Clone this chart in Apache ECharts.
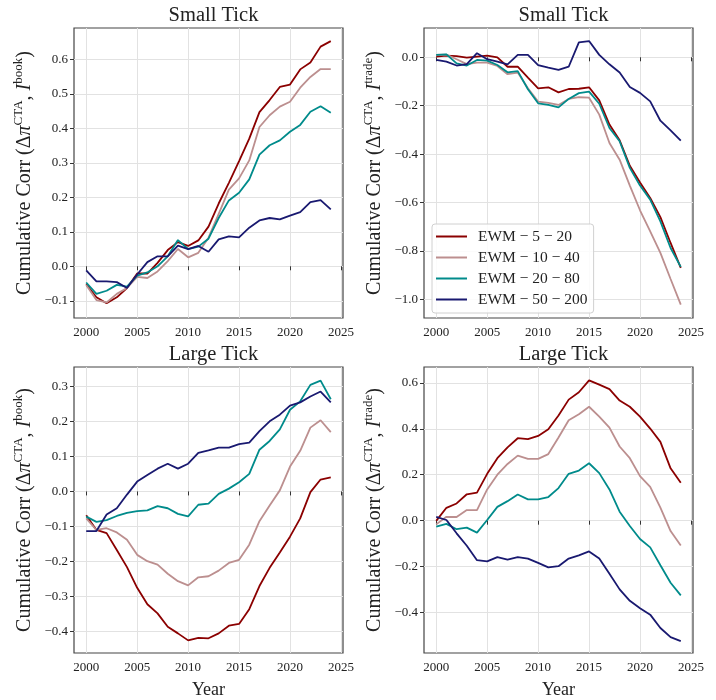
<!DOCTYPE html>
<html>
<head>
<meta charset="utf-8">
<script src="https://cdn.jsdelivr.net/npm/echarts@6/dist/echarts.min.js"></script>
<style>
  html, body { margin: 0; background: #fff; }
  #chart { width: 716px; height: 700px; }
</style>
</head>
<body>
<div id="chart"></div>
<script>
// years on the x axis
const years = [2000, 2001, 2002, 2003, 2004, 2005, 2006, 2007, 2008, 2009, 2010, 2011, 2012,
  2013, 2014, 2015, 2016, 2017, 2018, 2019, 2020, 2021, 2022, 2023, 2024]
const seriesNames = ['EWM − 5 − 20', 'EWM − 10 − 40', 'EWM − 20 − 80', 'EWM − 50 − 200']
const xTicks = [2000, 2005, 2010, 2015, 2020, 2025]

// small tick, I^book
const smallBook5 = [-0.052, -0.09, -0.107, -0.09, -0.063, -0.021, -0.021, 0.01, 0.047, 0.07, 0.059, 0.075, 0.115,
  0.182, 0.242, 0.305, 0.37, 0.447, 0.482, 0.52, 0.527, 0.571, 0.591, 0.637, 0.653]
const smallBook10 = [-0.054, -0.098, -0.105, -0.08, -0.063, -0.031, -0.034, -0.015, 0.015, 0.05, 0.026, 0.039, 0.083,
  0.152, 0.222, 0.255, 0.307, 0.404, 0.438, 0.463, 0.477, 0.518, 0.549, 0.572, 0.572]
const smallBook20 = [-0.047, -0.08, -0.071, -0.054, -0.059, -0.027, -0.018, 0.0, 0.029, 0.076, 0.05, 0.057, 0.08,
  0.14, 0.191, 0.213, 0.252, 0.324, 0.351, 0.365, 0.39, 0.41, 0.448, 0.464, 0.445]
const smallBook50 = [-0.012, -0.044, -0.044, -0.046, -0.063, -0.024, 0.012, 0.029, 0.029, 0.06, 0.05, 0.059, 0.042,
  0.078, 0.087, 0.084, 0.112, 0.133, 0.14, 0.136, 0.147, 0.157, 0.186, 0.192, 0.165]

// small tick, I^trade
const smallTrade5 = [0.003, 0.007, 0.005, -0.001, 0.003, 0.007, 0.0, -0.039, -0.039, -0.084, -0.128, -0.124, -0.145,
  -0.131, -0.13, -0.124, -0.178, -0.278, -0.343, -0.448, -0.517, -0.581, -0.66, -0.767, -0.87]
const smallTrade10 = [0.01, 0.011, -0.008, -0.028, -0.022, -0.022, -0.036, -0.07, -0.063, -0.128, -0.183, -0.188, -0.197,
  -0.172, -0.165, -0.167, -0.237, -0.354, -0.423, -0.53, -0.632, -0.719, -0.808, -0.916, -1.022]
const smallTrade20 = [0.01, 0.012, -0.025, -0.034, -0.011, -0.014, -0.032, -0.062, -0.057, -0.132, -0.19, -0.197, -0.207,
  -0.172, -0.148, -0.142, -0.192, -0.292, -0.347, -0.457, -0.53, -0.588, -0.678, -0.788, -0.866]
const smallTrade50 = [-0.011, -0.018, -0.034, -0.028, 0.017, -0.008, -0.018, -0.029, 0.01, 0.01, -0.032, -0.043, -0.052,
  -0.039, 0.062, 0.067, 0.01, -0.029, -0.063, -0.123, -0.147, -0.182, -0.262, -0.302, -0.344]

// large tick, I^book
const largeBook5 = [-0.068, -0.11, -0.119, -0.167, -0.216, -0.275, -0.322, -0.348, -0.386, -0.405, -0.425, -0.418, -0.419,
  -0.405, -0.383, -0.378, -0.336, -0.27, -0.218, -0.174, -0.129, -0.077, -0.002, 0.034, 0.04]
const largeBook10 = [-0.077, -0.11, -0.105, -0.117, -0.138, -0.181, -0.199, -0.209, -0.235, -0.256, -0.268, -0.245, -0.242,
  -0.226, -0.204, -0.195, -0.152, -0.085, -0.04, 0.003, 0.071, 0.116, 0.182, 0.203, 0.169]
const largeBook20 = [-0.072, -0.087, -0.082, -0.07, -0.061, -0.056, -0.054, -0.042, -0.048, -0.064, -0.071, -0.038, -0.035,
  -0.007, 0.008, 0.026, 0.05, 0.119, 0.144, 0.177, 0.233, 0.257, 0.304, 0.316, 0.263]
const largeBook50 = [-0.113, -0.113, -0.066, -0.048, -0.009, 0.028, 0.047, 0.065, 0.079, 0.065, 0.079, 0.11, 0.117,
  0.125, 0.125, 0.135, 0.139, 0.172, 0.2, 0.219, 0.245, 0.254, 0.271, 0.285, 0.254]

// large tick, I^trade
const largeTrade5 = [-0.001, 0.056, 0.075, 0.115, 0.122, 0.204, 0.272, 0.319, 0.359, 0.355, 0.369, 0.398, 0.458,
  0.527, 0.559, 0.611, 0.592, 0.573, 0.523, 0.496, 0.453, 0.401, 0.343, 0.228, 0.165]
const largeTrade10 = [-0.016, 0.017, 0.016, 0.046, 0.046, 0.136, 0.2, 0.247, 0.283, 0.269, 0.269, 0.29, 0.362,
  0.437, 0.463, 0.496, 0.453, 0.405, 0.323, 0.272, 0.194, 0.147, 0.057, -0.045, -0.108]
const largeTrade20 = [-0.026, -0.014, -0.037, -0.03, -0.052, 0.003, 0.06, 0.085, 0.114, 0.093, 0.093, 0.103, 0.142,
  0.204, 0.218, 0.25, 0.207, 0.136, 0.039, -0.023, -0.08, -0.116, -0.194, -0.27, -0.325]
const largeTrade50 = [0.017, 0.003, -0.055, -0.109, -0.172, -0.177, -0.159, -0.17, -0.159, -0.165, -0.184, -0.203, -0.198,
  -0.165, -0.151, -0.134, -0.165, -0.231, -0.299, -0.349, -0.381, -0.409, -0.467, -0.507, -0.524]

// y tick labels of each panel
const yTicksSmallBook = [-0.1, 0.0, 0.1, 0.2, 0.3, 0.4, 0.5, 0.6]
const yTicksSmallTrade = [-1.0, -0.8, -0.6, -0.4, -0.2, 0.0]
const yTicksLargeBook = [-0.4, -0.3, -0.2, -0.1, 0.0, 0.1, 0.2, 0.3]
const yTicksLargeTrade = [-0.4, -0.2, 0.0, 0.2, 0.4, 0.6]

const colors = ['#8b0000', '#bc8f8f', '#008b8b', '#191970']
const FONT = 'Liberation Serif'

const panels = [
  { title: 'Small Tick', sup: 'book', left: 74, top: 28, yMin: -0.15, yMax: 0.691, ticks: yTicksSmallBook,
    data: [smallBook5, smallBook10, smallBook20, smallBook50] },
  { title: 'Small Tick', sup: 'trade', left: 424, top: 28, yMin: -1.077, yMax: 0.121, ticks: yTicksSmallTrade,
    data: [smallTrade5, smallTrade10, smallTrade20, smallTrade50] },
  { title: 'Large Tick', sup: 'book', left: 74, top: 367, yMin: -0.461, yMax: 0.355, ticks: yTicksLargeBook,
    data: [largeBook5, largeBook10, largeBook20, largeBook50], xName: 'Year' },
  { title: 'Large Tick', sup: 'trade', left: 424, top: 367, yMin: -0.576, yMax: 0.669, ticks: yTicksLargeTrade,
    data: [largeTrade5, largeTrade10, largeTrade20, largeTrade50], xName: 'Year' }
]
const W = 269, H = 290

const fmt = v => (Math.abs(v) < 1e-9 ? '0.0' : v.toFixed(1)).replace('-', '−')

const tickStyle = { show: true, inside: false, length: 4, lineStyle: { color: '#333', width: 1 } }
const splitStyle = { show: true, lineStyle: { color: '#e2e2e2', width: 1 } }

const option = {
  animation: false,
  backgroundColor: '#fff',
  textStyle: { fontFamily: FONT },
  title: panels.map(p => ({
    text: p.title,
    left: p.left + W / 2,
    top: p.top - 28,
    textAlign: 'center',
    textStyle: { fontFamily: FONT, fontSize: 20.5, fontWeight: 'normal', color: '#222' }
  })),
  grid: panels.map(p => ({
    left: p.left, top: p.top, width: W, height: H,
    show: true, borderColor: '#444', borderWidth: 1.2, containLabel: false
  })),
  legend: {
    data: seriesNames,
    orient: 'vertical',
    left: 432, top: 224,
    icon: 'rect',
    itemWidth: 31, itemHeight: 2, itemGap: 4,
    padding: [4, 6, 5, 4],
    backgroundColor: 'rgba(255,255,255,0.85)',
    borderColor: '#d0d0d0', borderWidth: 1, borderRadius: 3,
    textStyle: { fontFamily: FONT, fontSize: 15.5, color: '#222', lineHeight: 17, padding: [0, 0, 0, 6] }
  },
  xAxis: panels.map((p, i) => ({
    type: 'value', gridIndex: i, min: 1998.8, max: 2025.2,
    axisLine: { show: false },
    axisTick: Object.assign({ customValues: xTicks }, tickStyle),
    axisLabel: { customValues: xTicks, fontFamily: FONT, fontSize: 13, color: '#222', margin: 8,
      formatter: v => String(v) },
    splitLine: splitStyle,
    name: p.xName || '', nameLocation: 'middle', nameGap: 28,
    nameTextStyle: { fontFamily: FONT, fontSize: 18, color: '#222' }
  })),
  yAxis: panels.map((p, i) => ({
    type: 'value', gridIndex: i, min: p.yMin, max: p.yMax,
    axisLine: { show: false },
    axisTick: Object.assign({ customValues: p.ticks }, tickStyle),
    axisLabel: { customValues: p.ticks, fontFamily: FONT, fontSize: 13, color: '#222', margin: 6,
      formatter: fmt },
    splitLine: splitStyle,
    name: '{t|Cumulative Corr (Δ}{i|π}{s|CTA}{t|, }{i|I}{s|' + p.sup + '}{t|)}',
    nameLocation: 'middle', nameRotate: 90, nameGap: 36,
    nameTextStyle: {
      rich: {
        t: { fontFamily: FONT, fontSize: 20, color: '#222', lineHeight: 26 },
        i: { fontFamily: FONT, fontSize: 20, fontStyle: 'italic', color: '#222', lineHeight: 26 },
        s: { fontFamily: FONT, fontSize: 13, color: '#222', lineHeight: 14, verticalAlign: 'top' }
      }
    }
  })),
  series: []
}

panels.forEach((p, gi) => {
  p.data.forEach((vals, si) => {
    option.series.push({
      type: 'line',
      name: seriesNames[si],
      xAxisIndex: gi, yAxisIndex: gi,
      data: years.map((y, k) => [y, vals[k]]),
      symbol: 'none',
      lineStyle: { color: colors[si], width: 1.8 },
      itemStyle: { color: colors[si] },
      z: 2 + si
    })
  })
})

const chart = echarts.init(document.getElementById('chart'))
chart.setOption(option)
</script>
</body>
</html>
